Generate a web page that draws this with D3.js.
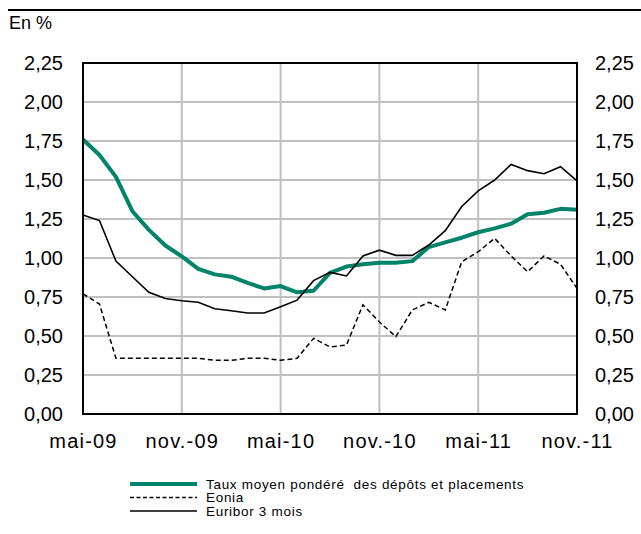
<!DOCTYPE html>
<html>
<head>
<meta charset="utf-8">
<script src="https://cdn.jsdelivr.net/npm/d3@7"></script>
<style>
  body { margin: 0; background: #fff; }
  svg { display: block; font-family: "Liberation Sans", Arial, sans-serif; }
</style>
</head>
<body>
<svg id="chart" width="641" height="534"></svg>
<script>
const months = ["mai-09","juin-09","juil.-09","août-09","sept.-09","oct.-09","nov.-09","déc.-09",
  "janv.-10","févr.-10","mars-10","avr.-10","mai-10","juin-10","juil.-10","août-10","sept.-10","oct.-10","nov.-10","déc.-10",
  "janv.-11","févr.-11","mars-11","avr.-11","mai-11","juin-11","juil.-11","août-11","sept.-11","oct.-11","nov.-11"];
const xTickLabels = ["mai-09","nov.-09","mai-10","nov.-10","mai-11","nov.-11"];
const yTicks = [0,0.25,0.5,0.75,1,1.25,1.5,1.75,2,2.25];

const taux = [1.76,1.66,1.52,1.30,1.18,1.08,1.01,0.93,0.895,0.88,0.84,0.805,0.82,0.78,0.79,0.905,0.945,0.96,0.97,0.97,0.98,1.07,1.10,1.13,1.165,1.19,1.22,1.28,1.29,1.315,1.31];
const eonia = [0.77,0.705,0.357,0.357,0.357,0.357,0.357,0.357,0.344,0.344,0.357,0.357,0.344,0.357,0.485,0.43,0.442,0.70,0.59,0.496,0.667,0.716,0.667,0.976,1.04,1.126,1.013,0.912,1.013,0.96,0.805];
const euribor = [1.275,1.24,0.98,0.88,0.78,0.74,0.726,0.716,0.675,0.662,0.647,0.647,0.688,0.73,0.855,0.908,0.885,1.013,1.05,1.017,1.017,1.083,1.175,1.33,1.43,1.50,1.60,1.56,1.54,1.585,1.495];

const seriesNames = ["Taux moyen pondéré  des dépôts et placements","Eonia","Euribor 3 mois"];

const svg = d3.select("#chart");
const L = 83, R = 577, T = 63, B = 414;
const x = d3.scalePoint().domain(months).range([L, R]);
const y = d3.scaleLinear().domain([0, 2.25]).range([B, T]);
const fmt = v => d3.format(".2f")(v).replace(".", ",");
const green = "#00836b";

// top rule
svg.append("line").attr("x1", 8).attr("x2", 641).attr("y1", 10).attr("y2", 10)
  .attr("stroke", "#000").attr("stroke-width", 2);
svg.append("text").attr("x", 9).attr("y", 28.5).attr("font-size", 18).text("En %");

// grid
svg.append("g").selectAll("line").data(yTicks.slice(1, -1)).join("line")
  .attr("x1", L).attr("x2", R).attr("y1", d => y(d)).attr("y2", d => y(d))
  .attr("stroke", "#c0c0c0").attr("stroke-width", 2);
svg.append("g").selectAll("line").data(xTickLabels.slice(1, -1)).join("line")
  .attr("x1", d => x(d)).attr("x2", d => x(d)).attr("y1", T).attr("y2", B)
  .attr("stroke", "#c0c0c0").attr("stroke-width", 2);

// axes
const axL = svg.append("g").attr("transform", `translate(${L - 20},0)`)
  .call(d3.axisLeft(y).tickValues(yTicks).tickFormat(fmt).tickSize(0).tickPadding(0));
const axR = svg.append("g").attr("transform", `translate(${R + 18},0)`)
  .call(d3.axisRight(y).tickValues(yTicks).tickFormat(fmt).tickSize(0).tickPadding(0));
const axB = svg.append("g").attr("transform", `translate(0,${B + 20})`)
  .call(d3.axisBottom(x).tickValues(xTickLabels).tickSize(0).tickPadding(0));
[axL, axR, axB].forEach(a => {
  a.select(".domain").remove();
  a.selectAll("text").attr("font-size", 20).attr("fill", "#000")
    .attr("font-family", "'Liberation Sans', Arial, sans-serif");
});
axB.selectAll("text").attr("dy", "0.71em").style("letter-spacing", "1.2px");

// lines
const line = d3.line().x((d, i) => x(months[i])).y(d => y(d));
svg.append("path").datum(taux).attr("d", line).attr("fill", "none")
  .attr("stroke", green).attr("stroke-width", 4).attr("stroke-linejoin", "round");
svg.append("path").datum(eonia).attr("d", line).attr("fill", "none")
  .attr("stroke", "#000").attr("stroke-width", 1.5).attr("stroke-dasharray", "5,3");
svg.append("path").datum(euribor).attr("d", line).attr("fill", "none")
  .attr("stroke", "#000").attr("stroke-width", 1.6);

// frame
svg.append("rect").attr("x", L).attr("y", T).attr("width", R - L).attr("height", B - T)
  .attr("fill", "none").attr("stroke", "#000").attr("stroke-width", 2);

// legend
const leg = svg.append("g");
const legY = [484, 497.5, 511];
const legStyles = [
  {stroke: green, w: 4, dash: null},
  {stroke: "#000", w: 1.5, dash: "4,2.5"},
  {stroke: "#000", w: 1.6, dash: null}
];
seriesNames.forEach((n, i) => {
  leg.append("line").attr("x1", 130).attr("x2", 197).attr("y1", legY[i]).attr("y2", legY[i])
    .attr("stroke", legStyles[i].stroke).attr("stroke-width", legStyles[i].w)
    .attr("stroke-dasharray", legStyles[i].dash);
  leg.append("text").attr("x", 206).attr("y", legY[i] + 4.5).attr("font-size", 13.5)
    .style("letter-spacing", "0.7px").style("white-space", "pre").text(n);
});
</script>
</body>
</html>
